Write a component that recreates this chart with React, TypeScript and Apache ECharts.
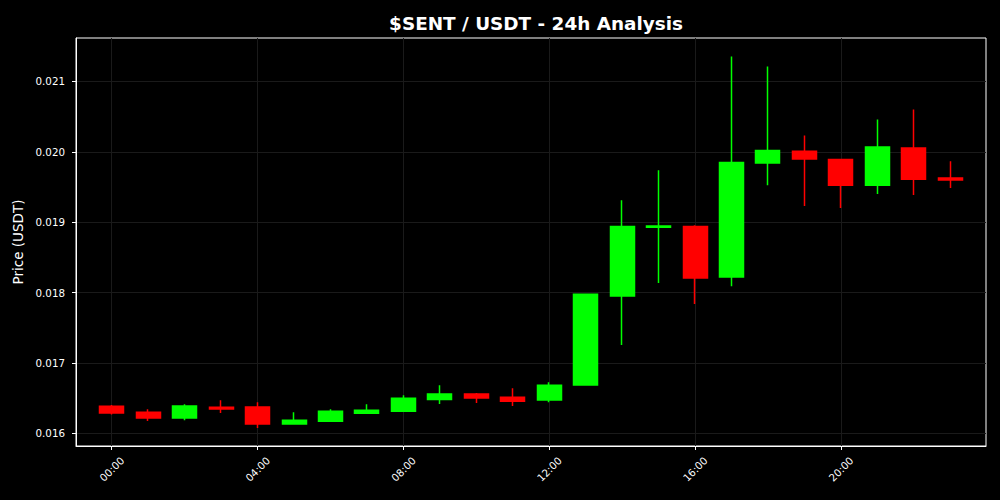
import React, { useEffect, useRef } from "react";
import * as echarts from "echarts";

const times = [
  "00:00", "01:00", "02:00", "03:00", "04:00", "05:00", "06:00", "07:00",
  "08:00", "09:00", "10:00", "11:00", "12:00", "13:00", "14:00", "15:00",
  "16:00", "17:00", "18:00", "19:00", "20:00", "21:00", "22:00", "23:00",
];

const opens = [
  0.016384, 0.016298, 0.016217, 0.016369, 0.016374, 0.016132, 0.01617, 0.016284,
  0.016313, 0.016479, 0.016558, 0.016511, 0.016473, 0.016686, 0.01795, 0.018926,
  0.01894, 0.01822, 0.01984, 0.020006, 0.019892, 0.019523, 0.020053, 0.019626,
];
const closes = [
  0.016288, 0.016217, 0.016388, 0.016345, 0.016132, 0.016185, 0.016313, 0.016327,
  0.016497, 0.016558, 0.016501, 0.016455, 0.016682, 0.017974, 0.01894, 0.018945,
  0.018206, 0.019849, 0.02002, 0.019896, 0.019523, 0.020067, 0.019608, 0.019598,
];
const lows = [
  0.016266, 0.016175, 0.016185, 0.016288, 0.016075, 0.016128, 0.016165, 0.016274,
  0.016308, 0.016416, 0.01643, 0.016388, 0.01644, 0.01668, 0.017254, 0.018135,
  0.017837, 0.018088, 0.019523, 0.019229, 0.0192, 0.019399, 0.019385, 0.019484,
];
const highs = [
  0.016402, 0.016341, 0.016412, 0.016469, 0.01644, 0.016298, 0.016341, 0.016412,
  0.01654, 0.016682, 0.016572, 0.016639, 0.016724, 0.017984, 0.01931, 0.019736,
  0.018955, 0.021355, 0.021213, 0.020233, 0.019902, 0.02046, 0.020602, 0.019864,
];

const xTickHours = [0, 4, 8, 12, 16, 20];
const yTicks = [0.016, 0.017, 0.018, 0.019, 0.02, 0.021];

const FONT = "DejaVu Sans";
const GRID_COLOR = "#1a1a1a";

export default function App() {
  const ref = useRef<HTMLDivElement>(null);

  useEffect(() => {
    if (!ref.current) return;
    const chart = echarts.init(ref.current, null, { renderer: "svg" });
    const data = times.map((_, i) => [i, opens[i], closes[i], lows[i], highs[i]]);
    chart.setOption({
      animation: false,
      backgroundColor: "#000000",
      title: {
        text: "$SENT / USDT - 24h Analysis",
        left: 531,
        top: 9,
        textAlign: "center",
        textStyle: { color: "#ffffff", fontFamily: FONT, fontWeight: "bold", fontSize: 18.4 },
      },
      grid: {
        left: 76,
        top: 38,
        right: 14,
        bottom: 54,
        show: true,
        borderColor: "#ffffff",
        borderWidth: 1,
        backgroundColor: "transparent",
      },
      xAxis: {
        type: "value",
        min: -0.98,
        max: 23.98,
        minInterval: 4,
        maxInterval: 4,
        axisLine: { show: true, onZero: false, lineStyle: { color: "#ffffff", width: 1 } },
        axisTick: {
          show: true,
          length: 4,
          customValues: xTickHours,
          lineStyle: { color: "#ffffff" },
        },
        axisLabel: {
          customValues: xTickHours,
          rotate: 45,
          align: "center",
          verticalAlign: "middle",
          margin: 23,
          color: "#ffffff",
          fontFamily: FONT,
          fontSize: 10.3,
          formatter: (v: number) => times[Math.round(v)] ?? "",
        },
        splitLine: { show: true, lineStyle: { color: GRID_COLOR, width: 1 } },
      },
      yAxis: {
        type: "value",
        min: 0.015819,
        max: 0.021617,
        minInterval: 0.001,
        maxInterval: 0.001,
        name: "Price (USDT)",
        nameLocation: "middle",
        nameGap: 46,
        nameTextStyle: { color: "#ffffff", fontFamily: FONT, fontSize: 13.5 },
        axisLine: { show: true, onZero: false, lineStyle: { color: "#ffffff", width: 1 } },
        axisTick: {
          show: true,
          length: 4,
          customValues: yTicks,
          lineStyle: { color: "#ffffff" },
        },
        axisLabel: {
          customValues: yTicks,
          margin: 11,
          color: "#ffffff",
          fontFamily: FONT,
          fontSize: 10.3,
          formatter: (v: number) => v.toFixed(3),
        },
        splitLine: { show: true, lineStyle: { color: GRID_COLOR, width: 1 } },
      },
      series: [
        {
          type: "candlestick",
          data,
          encode: { x: 0, y: [1, 2, 3, 4] },
          barWidth: 24.5,
          itemStyle: {
            color: "#00ff00",
            color0: "#ff0000",
            borderColor: "#00ff00",
            borderColor0: "#ff0000",
            borderWidth: 1.5,
          },
        },
      ],
    });
    return () => chart.dispose();
  }, []);

  return (
    <div
      ref={ref}
      style={{ position: "fixed", left: 0, top: 0, width: 1000, height: 500 }}
    />
  );
}
